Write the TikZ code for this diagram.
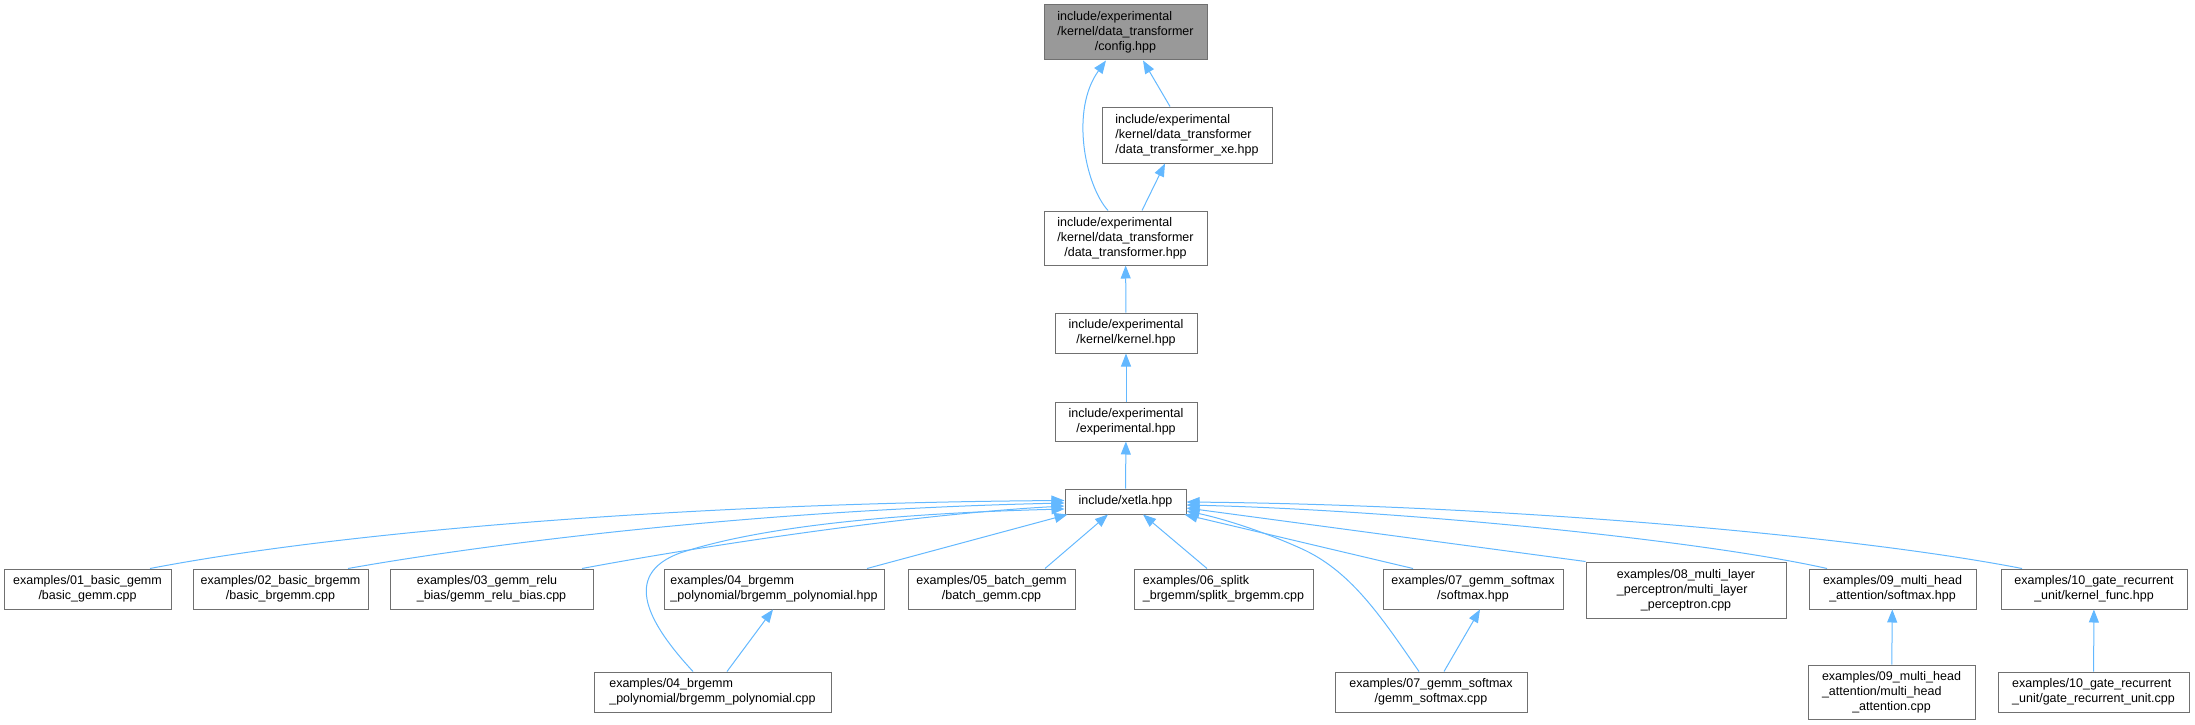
\documentclass[tikz,border=0pt]{standalone}
\usepackage{fontspec}
\setmainfont{Liberation Sans}
\usetikzlibrary{arrows.meta}

\definecolor{warnapanah}{HTML}{63B8FF}
\definecolor{warnagaris}{HTML}{707070}
\definecolor{warnaakar}{HTML}{999999}

% Label: baris atas rata kiri, baris akhir di tengah
\newcommand\flab[2]{\begin{tabular}{@{}l@{}}#1\\\multicolumn{1}{@{}c@{}}{#2}\end{tabular}}

\tikzset{
  kotak/.style={draw=warnagaris, line width=1pt, fill=white, inner sep=0pt,
    font=\fontsize{12.5}{15}\selectfont},
  panah/.style={draw=warnapanah, line width=1pt, -{Triangle[length=13pt,width=10pt]}}
}

\begin{document}
\begin{tikzpicture}[x=1pt,y=-1pt]
      \useasboundingbox (0,0) rectangle (2195,725);

      % Berkas include
      \node[kotak, fill=warnaakar, minimum width=163pt, minimum height=55pt] (config) at (1125.5,32.5)
        {\flab{include/experimental\\/kernel/data\_transformer}{/config.hpp}};
      \node[kotak, minimum width=170pt, minimum height=56pt] (xe) at (1187,135)
        {\flab{include/experimental\\/kernel/data\_transformer}{/data\_transformer\_xe.hpp}};
      \node[kotak, minimum width=163pt, minimum height=54pt] (dt) at (1125.5,238)
        {\flab{include/experimental\\/kernel/data\_transformer}{/data\_transformer.hpp}};
      \node[kotak, minimum width=142pt, minimum height=40pt] (kern) at (1126,333)
        {\flab{include/experimental}{/kernel/kernel.hpp}};
      \node[kotak, minimum width=142pt, minimum height=39pt] (expt) at (1126,421.5)
        {\flab{include/experimental}{/experimental.hpp}};
      \node[kotak, minimum width=121pt, minimum height=25pt] (xetla) at (1125.5,501.5)
        {include/xetla.hpp};

      % Berkas contoh
      \node[kotak, minimum width=167pt, minimum height=40pt] (e01) at (87.5,589)
        {\flab{examples/01\_basic\_gemm}{/basic\_gemm.cpp}};
      \node[kotak, minimum width=175pt, minimum height=40pt] (e02) at (280.5,589)
        {\flab{examples/02\_basic\_brgemm}{/basic\_brgemm.cpp}};
      \node[kotak, minimum width=203pt, minimum height=40pt] (e03) at (491.5,589)
        {\flab{examples/03\_gemm\_relu}{\_bias/gemm\_relu\_bias.cpp}};
      \node[kotak, minimum width=220pt, minimum height=40pt] (e04h) at (774,589)
        {\flab{examples/04\_brgemm}{\_polynomial/brgemm\_polynomial.hpp}};
      \node[kotak, minimum width=167pt, minimum height=40pt] (e05) at (991.5,589)
        {\flab{examples/05\_batch\_gemm}{/batch\_gemm.cpp}};
      \node[kotak, minimum width=179pt, minimum height=40pt] (e06) at (1223.5,589)
        {\flab{examples/06\_splitk}{\_brgemm/splitk\_brgemm.cpp}};
      \node[kotak, minimum width=180pt, minimum height=40pt] (e07h) at (1473,589)
        {\flab{examples/07\_gemm\_softmax}{/softmax.hpp}};
      \node[kotak, minimum width=200pt, minimum height=56pt] (e08) at (1686,590)
        {\flab{examples/08\_multi\_layer\\\_perceptron/multi\_layer}{\_perceptron.cpp}};
      \node[kotak, minimum width=167pt, minimum height=40pt] (e09h) at (1892.5,589)
        {\flab{examples/09\_multi\_head}{\_attention/softmax.hpp}};
      \node[kotak, minimum width=186pt, minimum height=40pt] (e10h) at (2094,589)
        {\flab{examples/10\_gate\_recurrent}{\_unit/kernel\_func.hpp}};

      \node[kotak, minimum width=237pt, minimum height=40pt] (e04c) at (712.5,692)
        {\flab{examples/04\_brgemm}{\_polynomial/brgemm\_polynomial.cpp}};
      \node[kotak, minimum width=192pt, minimum height=40pt] (e07c) at (1431,692)
        {\flab{examples/07\_gemm\_softmax}{/gemm\_softmax.cpp}};
      \node[kotak, minimum width=167pt, minimum height=54pt] (e09c) at (1891.5,692)
        {\flab{examples/09\_multi\_head\\\_attention/multi\_head}{\_attention.cpp}};
      \node[kotak, minimum width=191pt, minimum height=40pt] (e10c) at (2093.5,692)
        {\flab{examples/10\_gate\_recurrent}{\_unit/gate\_recurrent\_unit.cpp}};

      % Panah bagian atas
      \draw[panah] ([xshift=-17pt]xe.north) -- ([xshift=17.5pt]config.south);
      \draw[panah] ([xshift=16.5pt]dt.north) -- ([xshift=-22pt]xe.south);
      \draw[panah] ([xshift=-17.5pt]dt.north) .. controls (1085,185) and (1070,110) .. ([xshift=-19.5pt]config.south);

      \foreach \dari/\ke in {kern/dt, expt/kern, xetla/expt, e09c/e09h, e10c/e10h}
        {
          \draw[panah] (\dari) -- (\ke);
        }

      % Panah ke xetla.hpp
      \draw[panah] ([xshift=62.5pt]e01.north) .. controls (350,530) and (700,503) .. ([yshift=1pt]xetla.west);
      \draw[panah] ([xshift=67.5pt]e02.north) .. controls (480,545) and (750,510) .. ([yshift=-1.5pt]xetla.west);
      \draw[panah] ([xshift=90.5pt]e03.north) .. controls (680,550) and (900,515) .. ([yshift=-4.5pt]xetla.west);
      \draw[panah] ([xshift=-19.5pt]e04c.north) .. controls (650,625) and (620,575) .. (680,553)
        .. controls (780,520) and (950,512) .. ([yshift=-7.5pt]xetla.west);
      \draw[panah] ([xshift=93pt]e04h.north) -- ([xshift=3pt]xetla.south west);
      \draw[panah] ([xshift=53.5pt]e05.north) -- ([xshift=-17.5pt]xetla.south);
      \draw[panah] ([xshift=-16.5pt]e06.north) -- ([xshift=17.5pt]xetla.south);
      \draw[panah] ([xshift=-60pt]e07h.north) -- ([xshift=-2pt]xetla.south east);
      \draw[panah] ([xshift=-12pt]e07c.north) .. controls (1380,615) and (1350,570) .. (1300,548)
        .. controls (1260,530) and (1220,518) .. ([yshift=-9.5pt]xetla.east);
      \draw[panah] (e08.north west) -- ([yshift=-6.5pt]xetla.east);
      \draw[panah] ([xshift=-65.5pt]e09h.north) .. controls (1700,540) and (1400,510) .. ([yshift=-3.5pt]xetla.east);
      \draw[panah] ([xshift=-72pt]e10h.north) .. controls (1850,535) and (1500,505) .. ([yshift=-0.5pt]xetla.east);

      % Panah antar contoh
      \draw[panah] ([xshift=14.5pt]e04c.north) -- ([xshift=-1pt]e04h.south);
      \draw[panah] ([xshift=13pt]e07c.north) -- ([xshift=7pt]e07h.south);
\end{tikzpicture}
\end{document}
